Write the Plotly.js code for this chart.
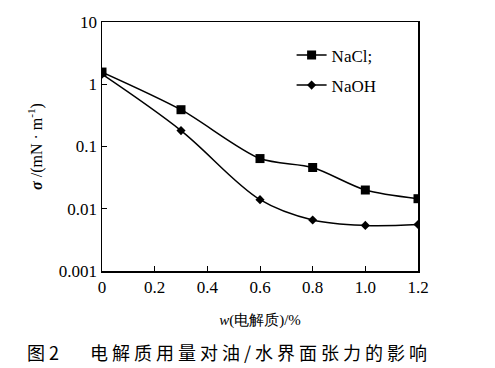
<!DOCTYPE html>
<html><head><meta charset="utf-8">
<script src="https://cdn.plot.ly/plotly-3.0.1.min.js"></script>
<style>body{margin:0;background:#fff}#c{width:495px;height:368px}</style>
</head><body><div id="c"></div>
<script>
var x = [0, 0.3, 0.6, 0.8, 1.0, 1.2];
var nacl = [1.57, 0.39, 0.064, 0.046, 0.020, 0.0145];
var naoh = [1.45, 0.18, 0.014, 0.0066, 0.0054, 0.0056];
var yTickVals = [0.001, 0.01, 0.1, 1, 10];
var yTickText = ['0.001', '0.01', '0.1', '1', '10'];
var xTickVals = [0, 0.2, 0.4, 0.6, 0.8, 1.0, 1.2];
var xTickText = ['0', '0.2', '0.4', '0.6', '0.8', '1.0', '1.2'];

var serif = 'Liberation Serif, DejaVu Serif, serif';
var traces = [
  {x: x, y: nacl, name: 'NaCl;', legendgroup: 'a', type: 'scatter', mode: 'lines+markers',
   line: {color: '#000', width: 1.5, shape: 'spline', smoothing: 0.8},
   marker: {symbol: 'square', size: 9, color: '#000'}},
  {x: x, y: naoh, name: 'NaOH', legendgroup: 'b', type: 'scatter', mode: 'lines+markers',
   line: {color: '#000', width: 1.5, shape: 'spline', smoothing: 1},
   marker: {symbol: 'diamond', size: 7, color: '#000'}}
];
var layout = {
  width: 495, height: 368,
  margin: {l: 102, r: 77, t: 22, b: 97},
  paper_bgcolor: '#fff', plot_bgcolor: '#fff',
  showlegend: true,
  legend: {x: 0.6, y: 0.938, xanchor: 'left', yanchor: 'top', bgcolor: 'rgba(0,0,0,0)',
           font: {family: serif, size: 17, color: '#000'}, tracegroupgap: 5, itemwidth: 30},
  xaxis: {range: [0, 1.2], tickvals: xTickVals, ticktext: xTickText,
          ticks: 'inside', ticklen: 5, tickcolor: '#000', showline: true, linecolor: '#000', linewidth: 1.5,
          mirror: true, showgrid: false, zeroline: false,
          tickfont: {family: serif, size: 17, color: '#000'},
          title: {text: '<i>w</i>(电解质)/%', font: {family: serif, size: 15, color: '#000'}, standoff: 18}},
  yaxis: {type: 'log', range: [-3, 1], tickvals: yTickVals, ticktext: yTickText,
          ticks: 'inside', ticklen: 5, tickcolor: '#000', showline: true, linecolor: '#000', linewidth: 1.5,
          mirror: true, showgrid: false, zeroline: false,
          tickfont: {family: serif, size: 17, color: '#000'},
          title: {text: '<b><i>σ</i></b> /(mN · m<sup>-1</sup>)', font: {family: serif, size: 16, color: '#000'}, standoff: 12}},
  annotations: [
    {text: '图 2', xref: 'paper', yref: 'paper', x: -0.245, y: -0.325,
     xanchor: 'left', yanchor: 'middle', showarrow: false,
     font: {family: 'Noto Sans CJK SC, sans-serif', size: 18, color: '#000'}},
    {text: '<span style="letter-spacing:4px">电解质用量对油/水界面张力的影响</span>', xref: 'paper', yref: 'paper', x: -0.045, y: -0.325,
     xanchor: 'left', yanchor: 'middle', showarrow: false,
     font: {family: 'Noto Sans CJK SC, sans-serif', size: 18, color: '#000'}}
  ]
};
Plotly.newPlot('c', traces, layout, {displayModeBar: false, staticPlot: true});
</script></body></html>
